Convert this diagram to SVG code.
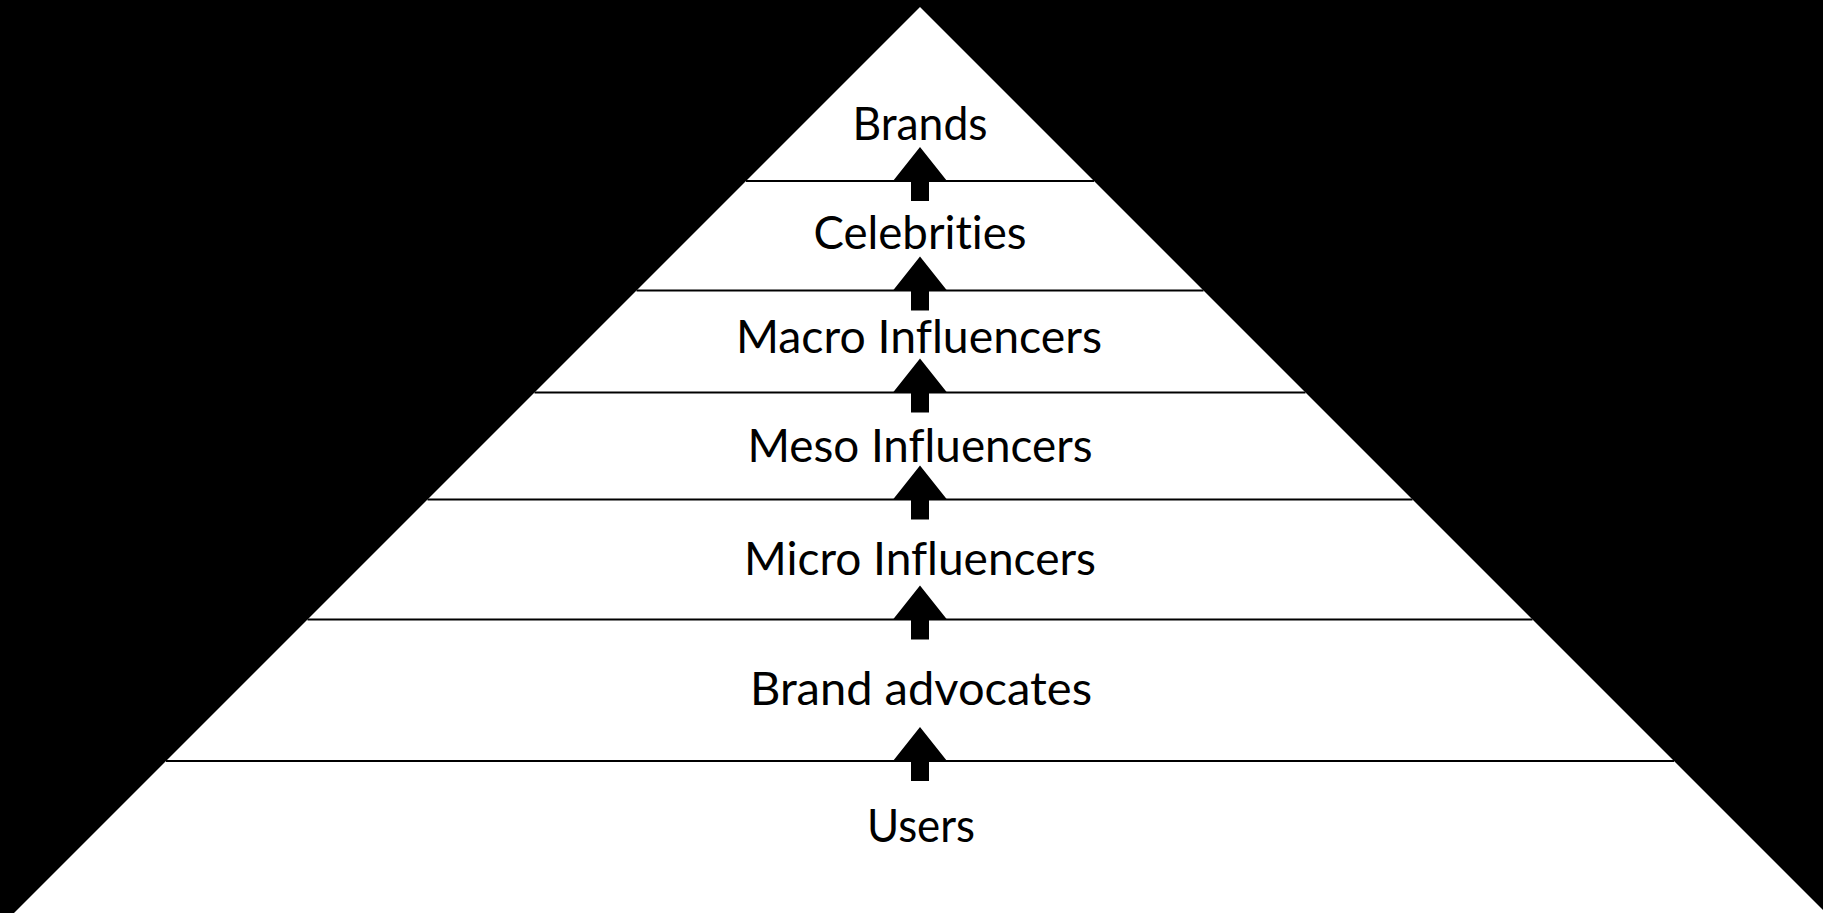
<svg xmlns="http://www.w3.org/2000/svg" width="1823" height="913" viewBox="0 0 1823 913">
<defs>
<style>
.lbl{font-family:Lato,"Noto Sans","Liberation Sans",sans-serif;font-size:46px;fill:#000;text-anchor:middle;font-variant-ligatures:none;font-feature-settings:"liga" 0,"clig" 0,"dlig" 0}
.sep{stroke:#000;stroke-width:2.2;fill:none}
.arr{fill:#000}
</style>
<symbol id="up" overflow="visible"><polygon points="0,-34 27,0 9,0 9,20 -9,20 -9,0 -27,0"/></symbol>
</defs>
<rect x="0" y="0" width="1823" height="913" fill="#000"/>
<g id="pyramid"><polygon points="920,7 14,913 1826,913" fill="#fff"/></g>
<g id="connectors">
<line class="sep" x1="746" y1="181" x2="1094" y2="181"/>
<line class="sep" x1="636.5" y1="290.5" x2="1203.5" y2="290.5"/>
<line class="sep" x1="534.5" y1="392.5" x2="1305.5" y2="392.5"/>
<line class="sep" x1="427.5" y1="499.5" x2="1412.5" y2="499.5"/>
<line class="sep" x1="307.5" y1="619.5" x2="1532.5" y2="619.5"/>
<line class="sep" x1="166" y1="761" x2="1674" y2="761"/>
<use class="arr" href="#up" x="920" y="181"/>
<use class="arr" href="#up" x="920" y="290.5"/>
<use class="arr" href="#up" x="920" y="392.5"/>
<use class="arr" href="#up" x="920" y="499.5"/>
<use class="arr" href="#up" x="920" y="619.5"/>
<use class="arr" href="#up" x="920" y="761"/>
</g>
<g id="n-brands"><text class="lbl" x="920" y="140" textLength="135" lengthAdjust="spacingAndGlyphs">Brands</text></g>
<g id="n-celebrities"><text class="lbl" x="920" y="249" textLength="213" lengthAdjust="spacingAndGlyphs">Celebrities</text></g>
<g id="n-macro"><text class="lbl" x="919" y="353" textLength="366" lengthAdjust="spacingAndGlyphs">Macro Influencers</text></g>
<g id="n-meso"><text class="lbl" x="920" y="462" textLength="345" lengthAdjust="spacingAndGlyphs">Meso Influencers</text></g>
<g id="n-micro"><text class="lbl" x="920" y="575" textLength="352" lengthAdjust="spacingAndGlyphs">Micro Influencers</text></g>
<g id="n-advocates"><text class="lbl" x="921" y="705" textLength="342" lengthAdjust="spacingAndGlyphs">Brand advocates</text></g>
<g id="n-users"><text class="lbl" x="921" y="842" textLength="108" lengthAdjust="spacingAndGlyphs">Users</text></g>
</svg>
